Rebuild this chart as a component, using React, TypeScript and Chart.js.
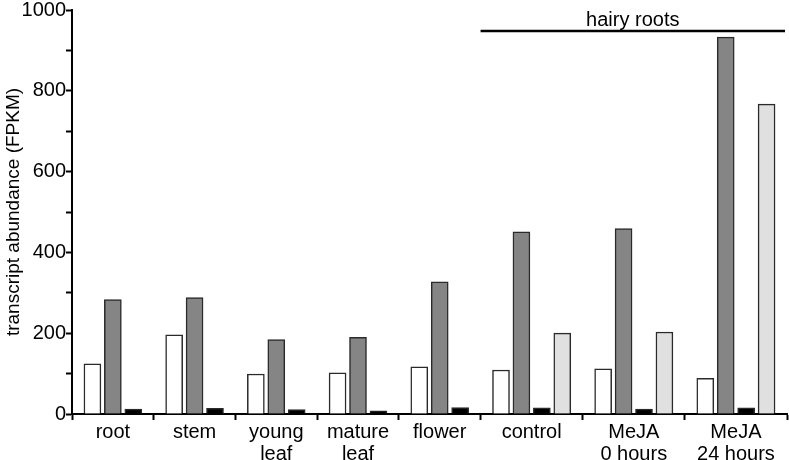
import React, { useEffect, useRef } from 'react';
import { Chart, registerables } from 'chart.js';
Chart.register(...registerables);

const categories: (string | string[])[] = ['root', 'stem', ['young', 'leaf'], ['mature', 'leaf'], 'flower', 'control', ['MeJA', '0 hours'], ['MeJA', '24 hours']];
const whiteValues: (number | null)[] = [124, 196, 99, 102, 117, 109, 112, 88];
const darkGreyValues: (number | null)[] = [283, 288, 184, 190, 327, 451, 459, 933];
const blackValues: (number | null)[] = [12, 14, 11, 8, 16, 15, 12, 15];
const lightGreyValues: (number | null)[] = [null, null, null, null, null, 200, 203, 767];
const yTickLabels = [0, 200, 400, 600, 800, 1000];
const groupLabel = 'hairy roots';
const groupStartIndex = 5;
const yTitle = 'transcript abundance (FPKM)';

const FONT = '"Liberation Sans", Arial, Helvetica, sans-serif';

const series = [whiteValues, darkGreyValues, blackValues, lightGreyValues];
const fills = ['#ffffff', '#858585', '#000000', '#e0e0e0'];

// layout of categories in slot units (one slot per bar + one slot of spacing)
const barCounts = categories.map((_, i) => series.filter((s) => s[i] != null).length);
const starts: number[] = [];
let acc = 0;
barCounts.forEach((n) => { starts.push(acc); acc += n + 1; });
const total = acc;
const centers = barCounts.map((n, i) => starts[i] + (n + 1) / 2);
const boundaries = [...starts, total];

export default function App() {
  const ref = useRef<HTMLCanvasElement | null>(null);
  useEffect(() => {
    if (!ref.current) return;
    const datasets = series.map((vals, si) => ({
      label: 's' + si,
      data: vals.map((v, i) => {
        if (v == null) return null;
        const present = series.map((s) => s[i] != null);
        const k = present.slice(0, si).filter(Boolean).length;
        const n = barCounts[i];
        return { x: centers[i] - (n - 1) / 2 + k, y: v };
      }).filter((d) => d != null),
      backgroundColor: fills[si],
      borderColor: '#2a2a2a',
      borderWidth: 1.5,
      barThickness: 17,
      grouped: false,
    }));

    const groupPlugin = {
      id: 'groupLine',
      afterDraw(chart: any) {
        const { ctx, scales, chartArea } = chart;
        const x0 = scales.x.getPixelForValue(starts[groupStartIndex]);
        const x1 = scales.x.getPixelForValue(total) - 2;
        const y = chartArea.top + 21;
        ctx.save();
        ctx.strokeStyle = '#000';
        ctx.lineWidth = 2.5;
        ctx.beginPath();
        ctx.moveTo(x0, y);
        ctx.lineTo(x1, y);
        ctx.stroke();
        ctx.fillStyle = '#000';
        ctx.font = `20px ${FONT}`;
        ctx.textAlign = 'center';
        ctx.textBaseline = 'alphabetic';
        ctx.fillText(groupLabel, (x0 + x1) / 2, y - 5);
        ctx.restore();
      },
    };

    const chart = new Chart(ref.current, {
      type: 'bar',
      data: { datasets: datasets as any },
      plugins: [groupPlugin],
      options: {
        animation: false,
        responsive: true,
        maintainAspectRatio: false,
        layout: { padding: { left: 2, right: 2, top: 10, bottom: 0 } },
        plugins: { legend: { display: false }, tooltip: { enabled: false } },
        scales: {
          x: {
            type: 'linear',
            min: 0,
            max: total,
            offset: false,
            afterBuildTicks: (s: any) => {
              const vals = [...boundaries, ...centers].sort((a, b) => a - b);
              s.ticks = vals.map((v) => ({ value: v }));
            },
            afterFit: (s: any) => {
              s.height = 46;
              s.paddingLeft = 0;
              s.paddingRight = 0;
            },
            ticks: {
              autoSkip: false,
              maxRotation: 0,
              minRotation: 0,
              padding: 1,
              color: '#000',
              font: { family: FONT, size: 20, lineHeight: 1.1 },
              callback: (value: any) => {
                const idx = centers.findIndex((c) => Math.abs(c - value) < 1e-6);
                return idx >= 0 ? (categories[idx] as any) : '';
              },
            },
            grid: {
              display: true,
              offset: false,
              drawOnChartArea: false,
              drawTicks: true,
              tickLength: 6,
              tickWidth: 2,
              tickColor: (ctx: any) =>
                ctx.tick && boundaries.some((b) => Math.abs(b - ctx.tick.value) < 1e-6) ? '#000' : 'rgba(0,0,0,0)',
            },
            border: { display: true, color: '#000', width: 2 },
          },
          y: {
            min: 0,
            max: 1000,
            afterFit: (s: any) => {
              s.width = 70;
              s.paddingTop = 0;
              s.paddingBottom = 0;
            },
            ticks: {
              stepSize: 100,
              padding: 0,
              color: '#000',
              font: { family: FONT, size: 20 },
              callback: (value: any) => (yTickLabels.includes(Number(value)) ? String(value) : ''),
            },
            grid: {
              display: true,
              drawOnChartArea: false,
              drawTicks: true,
              tickLength: 6,
              tickWidth: 2,
              tickColor: '#000',
            },
            border: { display: true, color: '#000', width: 2 },
            title: {
              display: true,
              text: yTitle,
              color: '#000',
              font: { family: FONT, size: 19 },
              padding: { top: 0, bottom: 0 },
            },
          },
        },
      } as any,
    });
    return () => chart.destroy();
  }, []);
  return (
    <div style={{ position: 'absolute', left: 0, top: 0, width: 789, height: 460 }}>
      <canvas ref={ref} />
    </div>
  );
}
